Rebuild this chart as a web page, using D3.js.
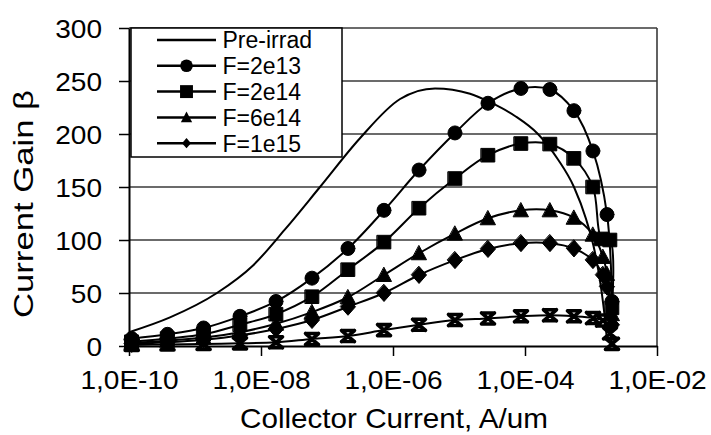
<!DOCTYPE html>
<html><head><meta charset="utf-8">
<script src="https://cdn.jsdelivr.net/npm/d3@7"></script>
<style>
html,body{margin:0;padding:0;background:#fff;}
svg{display:block;}
text{font-family:"Liberation Sans",Arial,Helvetica,sans-serif;fill:#000;}
</style></head>
<body>
<svg id="chart" width="711" height="435"></svg>
<script>
// ---- data ----
const seriesNames = ["Pre-irrad","F=2e13","F=2e14","F=6e14","F=1e15"];
const yTicks = [0,50,100,150,200,250,300];
const xTicks = [1e-10,1e-8,1e-6,1e-4,1e-2];
const xTickLabels = ["1,0E-10","1,0E-08","1,0E-06","1,0E-04","1,0E-02"];

// Pre-irrad (line only)
const preX = [1e-10,4.18e-10,2.15e-9,7.57e-9,2.31e-8,7.83e-8,3.16e-7,1.28e-6,4.33e-6,1.47e-5,2.95e-5,7.05e-5,1.57e-4,3.16e-4,5.52e-4,8.39e-4,1.15e-3,1.42e-3,1.63e-3,1.75e-3];
const preY = [13,27,50,76,110,150,196,233,243,238,230,217,200,176,150,120,88,55,25,5];

// shared collector current points of the irradiated devices
const ic = [1.1e-10,3.83e-10,1.35e-9,4.81e-9,1.69e-8,5.93e-8,2.08e-7,7.31e-7,2.48e-6,8.69e-6,2.75e-5,8.69e-5,2.39e-4,5.52e-4,1.07e-3];
const f2e13X = ic.concat([1.75e-3,2.08e-3]);
const f2e13Y = [7,11,17,28,42,64,92,128,166,201,229,243,242,222,184,124,42];
const f2e14X = ic.concat([1.45e-3,1.94e-3,2.08e-3]);
const f2e14Y = [4,7,11,20,30,46.5,72,98,130,158,180,191,190.5,177,150,101,100,36];
const f6e14X = ic.concat([1.52e-3,1.75e-3,2.08e-3]);
const f6e14Y = [3,5,8,13,21,32,46,67,87.5,106,120.5,128,128,121,105,84,68,30];
const f1e15X = ic.concat([1.52e-3,1.75e-3,2.08e-3]);
const f1e15Y = [2,3.5,6,10,16,24.5,37,50,67,81,91.5,97,97,92,81,67,56,20];
const fXX = ic.concat([1.52e-3,1.94e-3,2.08e-3]);
const fXY = [1,1.5,2,2.5,3.5,6.6,9.4,15,20,24.5,26,28,29,28,26.4,24,12,2];

// ---- chart ----
const svg = d3.select("#chart");
const x = d3.scaleLog().domain([1e-10,1e-2]).range([129,657]);
const y = d3.scaleLinear().domain([0,300]).range([346,28]);

// gridlines
svg.append("g").selectAll("line").data(yTicks.filter(d=>d>0)).join("line")
  .attr("x1",x(1e-10)).attr("x2",x(1e-2))
  .attr("y1",d=>y(d)).attr("y2",d=>y(d))
  .attr("stroke","#3a3a3a").attr("stroke-width",1.4);
// right border
svg.append("line").attr("x1",x(1e-2)).attr("x2",x(1e-2)).attr("y1",y(0)).attr("y2",y(300))
  .attr("stroke","#3a3a3a").attr("stroke-width",1.6);

// axes
const yAxis = svg.append("g").attr("transform",`translate(${x(1e-10)},0)`)
  .call(d3.axisLeft(y).tickValues(yTicks).tickSize(10).tickSizeOuter(0).tickPadding(0));
yAxis.select(".domain").attr("stroke","#000").attr("stroke-width",2);
yAxis.selectAll(".tick line").attr("stroke","#000").attr("stroke-width",1.5);
yAxis.selectAll(".tick text").attr("font-size",25.5).attr("x",-24.5).attr("dy","0.36em")
  .attr("transform","scale(1.1,1)").attr("font-family","Liberation Sans, Arial, sans-serif");

const xAxis = svg.append("g").attr("transform",`translate(0,${y(0)})`)
  .call(d3.axisBottom(x).tickValues(xTicks).tickSize(10).tickSizeOuter(0)
    .tickFormat((d,i)=>xTickLabels[i]));
xAxis.select(".domain").attr("stroke","#000").attr("stroke-width",1.8);
xAxis.selectAll(".tick line").attr("stroke","#000").attr("stroke-width",1.5);
xAxis.selectAll(".tick text").attr("font-size",25.5).attr("y",43).attr("dy",0)
  .attr("transform","scale(1.1,1)").attr("font-family","Liberation Sans, Arial, sans-serif");

// titles
svg.append("text").attr("x",394).attr("y",428).attr("text-anchor","middle")
  .attr("font-size",28).attr("textLength",308).attr("lengthAdjust","spacingAndGlyphs")
  .text("Collector Current, A/um");
svg.append("text").attr("transform","translate(33,204) rotate(-90)").attr("text-anchor","middle")
  .attr("font-size",28).attr("textLength",228).attr("lengthAdjust","spacingAndGlyphs")
  .text("Current Gain β");

// lines
const line = d3.line().x(d=>x(d[0])).y(d=>y(d[1])).curve(d3.curveCatmullRom.alpha(0.5));
const smooth = d3.line().x(d=>x(d[0])).y(d=>y(d[1])).curve(d3.curveMonotoneX);
const zip = (a,b)=>a.map((v,i)=>[v,b[i]]);
const series = [
  {name:seriesNames[1], pts:zip(f2e13X,f2e13Y), m:"circle"},
  {name:seriesNames[2], pts:zip(f2e14X,f2e14Y), m:"square"},
  {name:seriesNames[3], pts:zip(f6e14X,f6e14Y), m:"triangle"},
  {name:seriesNames[4], pts:zip(f1e15X,f1e15Y), m:"diamond"},
  {name:"", pts:zip(fXX,fXY), m:"star"}
];
svg.append("path").attr("d",smooth(zip(preX,preY))).attr("fill","none").attr("stroke","#000").attr("stroke-width",2);
series.forEach(s=>{
  svg.append("path").attr("d",line(s.pts)).attr("fill","none").attr("stroke","#000").attr("stroke-width",2);
});

function shape(m,k){
  k = k||1;
  if(m==="circle") return d3.symbol(d3.symbolCircle, Math.PI*49*k*k)();
  if(m==="square"){const h=6.8*k;return `M${-h},${-h}H${h}V${h}H${-h}Z`;}
  if(m==="triangle"){const w=7.5*k,h=6.5*k;return `M0,${-h-1}L${w},${h}L${-w},${h}Z`;}
  if(m==="diamond"){const w=7.5*k,h=8.5*k;return `M0,${-h}L${w},0L0,${h}L${-w},0Z`;}
  if(m==="star"){const w=6.5*k,h=5.5*k;return `M${-w},${-h}L${w},${h}M${-w},${h}L${w},${-h}M${-w},${-h}H${w}M${-w},${h}H${w}`;}
}
series.forEach(s=>{
  const g = svg.append("g");
  g.selectAll("path").data(s.pts).join("path")
    .attr("transform",d=>`translate(${x(d[0])},${y(d[1])})`)
    .attr("d",shape(s.m))
    .attr("fill",s.m==="star"?"none":"#000")
    .attr("stroke","#000").attr("stroke-width",s.m==="star"?3.6:1)
    .attr("stroke-linecap","round");
});

// legend
const lg = svg.append("g");
lg.append("rect").attr("x",131).attr("y",y(300)).attr("width",211).attr("height",129)
  .attr("fill","#fff").attr("stroke","#000").attr("stroke-width",1.5);
const legendItems = [{name:seriesNames[0],m:null}].concat(series.slice(0,4));
legendItems.forEach((s,i)=>{
  const cy = 40 + i*25.8;
  lg.append("line").attr("x1",157).attr("x2",216).attr("y1",cy).attr("y2",cy)
    .attr("stroke","#000").attr("stroke-width",2.5);
  if(s.m){
    const k = s.m==="circle"?0.9:(s.m==="square"?0.95:(s.m==="triangle"?0.75:0.6));
    lg.append("path").attr("transform",`translate(186.5,${cy})`).attr("d",shape(s.m,k)).attr("fill","#000");
  }
  lg.append("text").attr("x",222.5).attr("y",cy+8.3).attr("font-size",23).text(s.name);
});
</script>
</body></html>
